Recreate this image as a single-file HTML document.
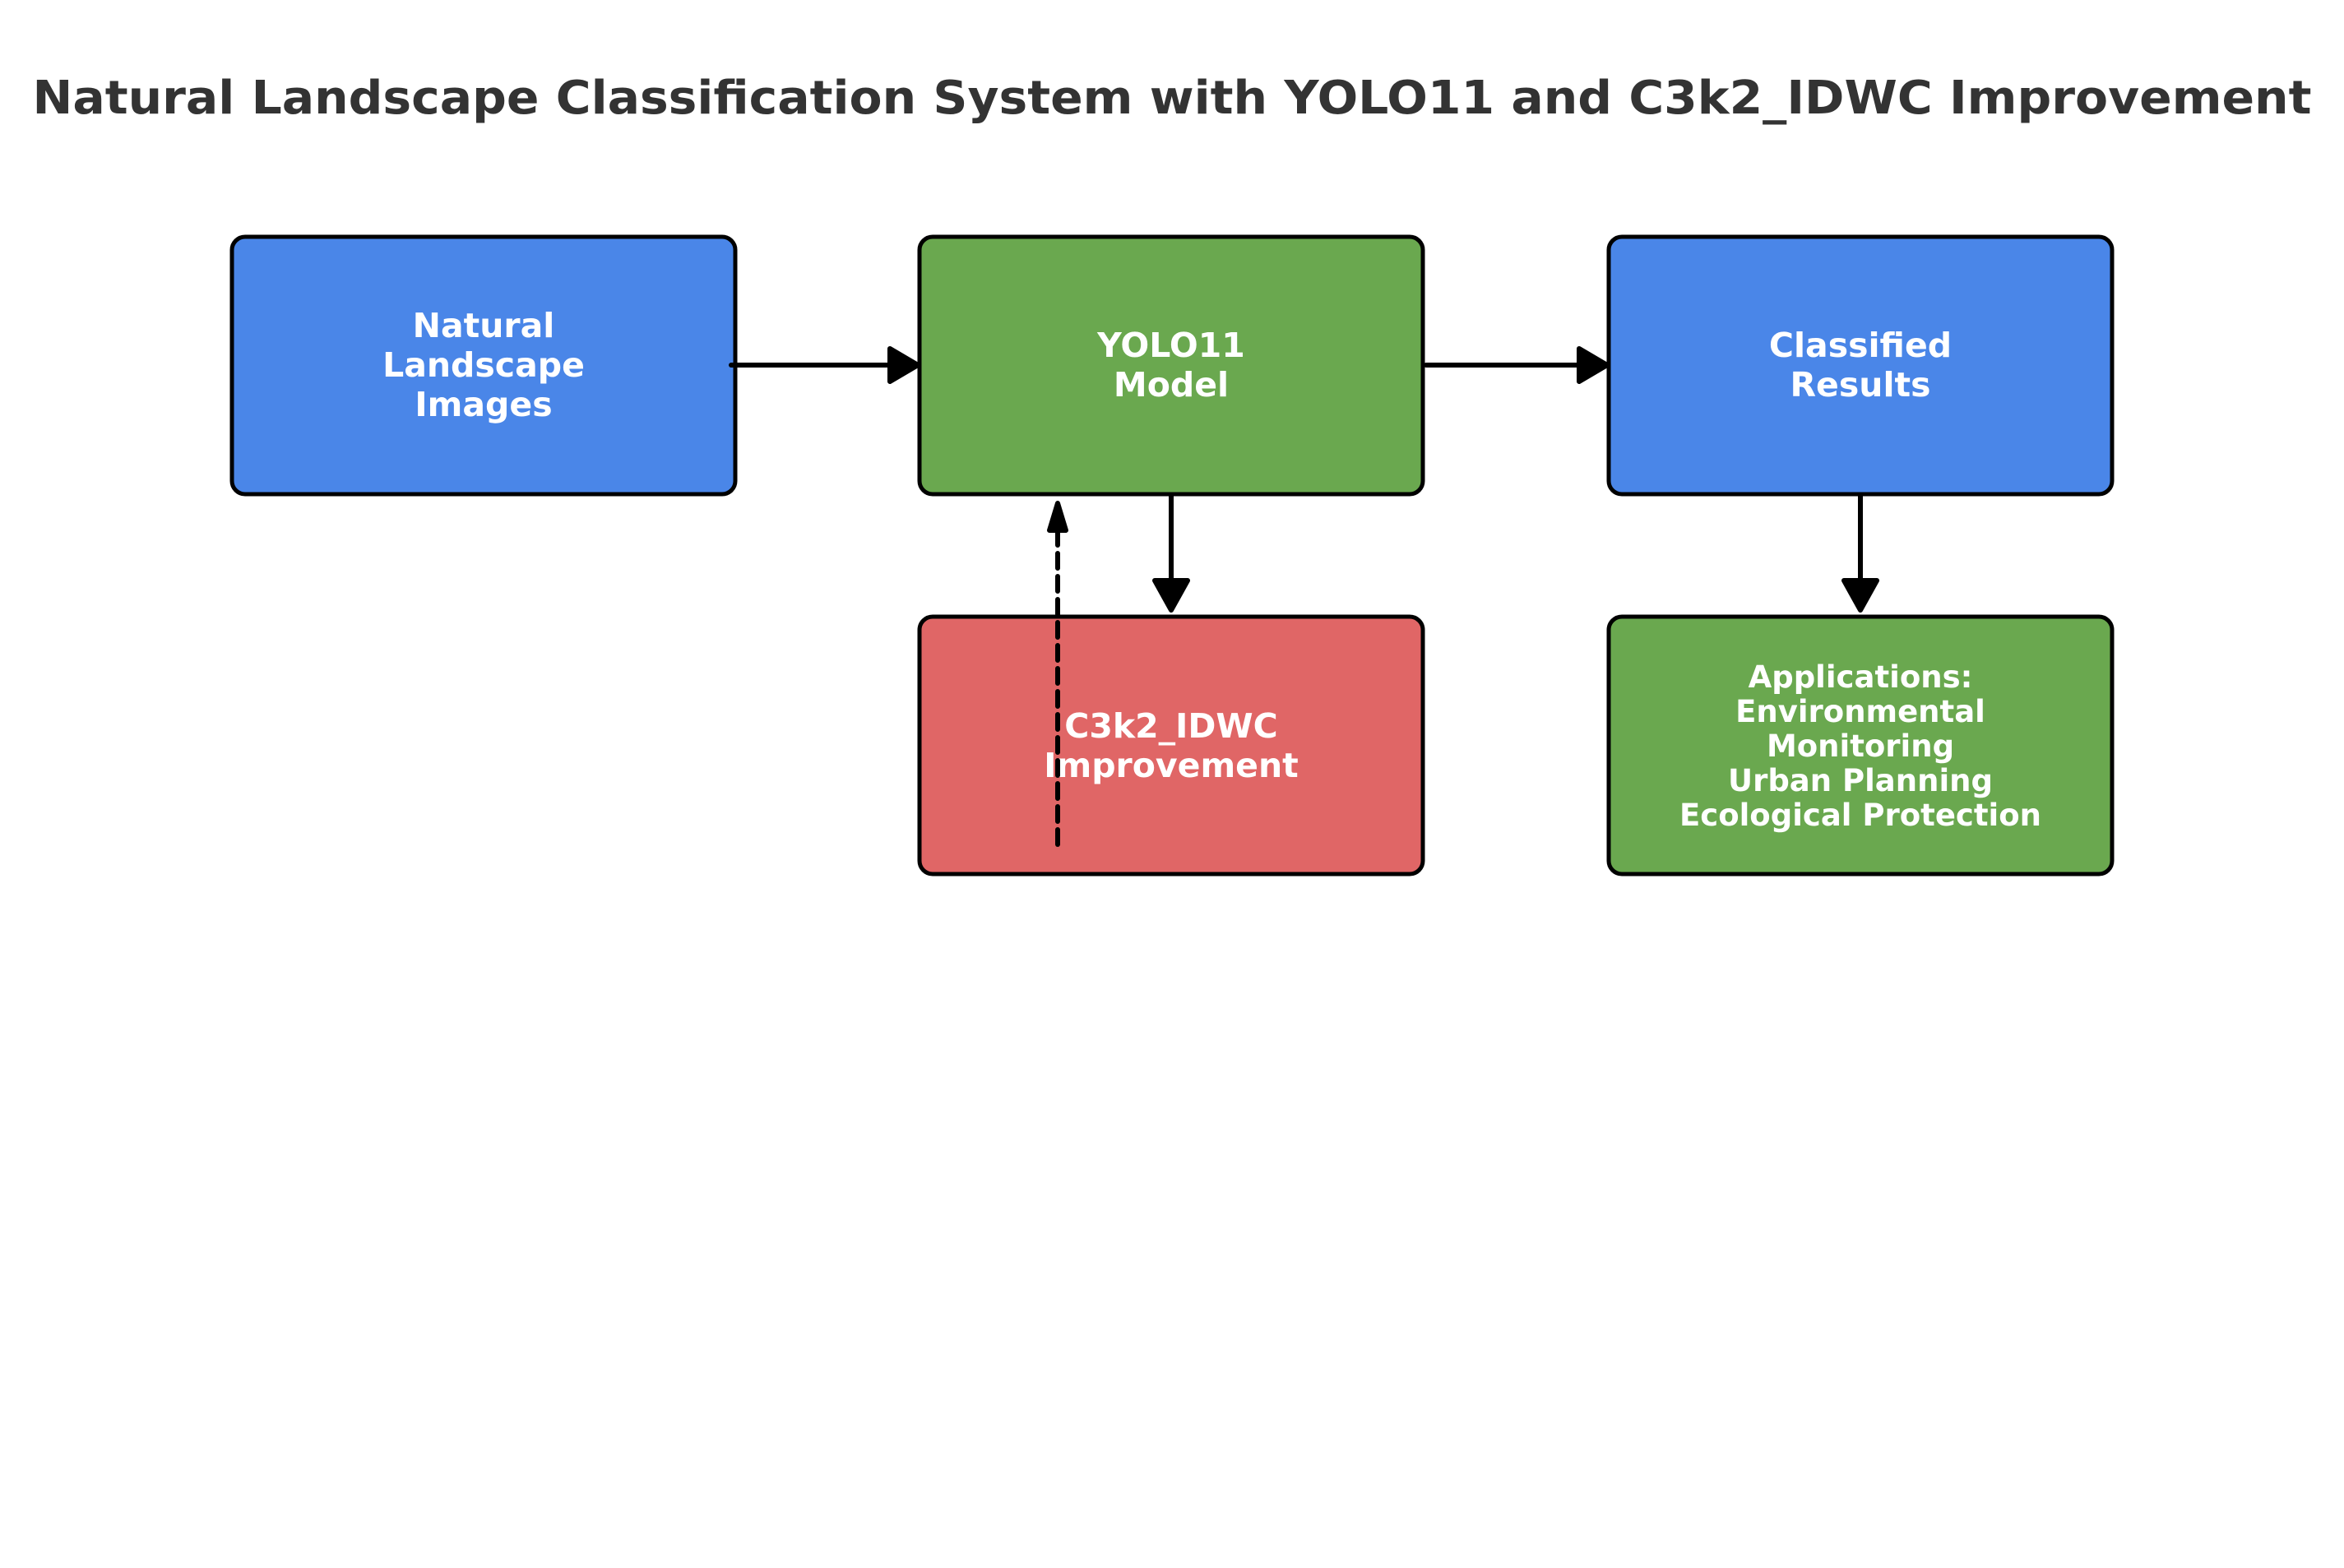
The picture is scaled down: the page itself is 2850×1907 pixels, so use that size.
<!DOCTYPE html>
<html><head><meta charset="utf-8"><style>html,body{margin:0;padding:0;background:#fff}svg{display:block}</style></head>
<body>
<svg width="2850" height="1907" viewBox="0 0 2850 1907" xmlns="http://www.w3.org/2000/svg" font-family="DejaVu Sans, Liberation Sans, sans-serif" font-weight="bold">
<rect width="2850" height="1907" fill="#fff"/>
<text x="1425" y="138" font-size="56" fill="#333" text-anchor="middle" textLength="2771" lengthAdjust="spacingAndGlyphs">Natural Landscape Classification System with YOLO11 and C3k2_IDWC Improvement</text>
<g stroke="#000" stroke-width="5">
<rect x="282" y="288" width="612" height="313" rx="16" fill="#4a86e8"/>
<rect x="1118" y="288" width="612" height="313" rx="16" fill="#6aa84f"/>
<rect x="1956" y="288" width="612" height="313" rx="16" fill="#4a86e8"/>
<rect x="1118" y="750" width="612" height="313" rx="16" fill="#e06666"/>
<rect x="1956" y="750" width="612" height="313" rx="16" fill="#6aa84f"/>
</g>
<g fill="#fff" text-anchor="middle">
<text font-size="41"><tspan x="588" y="410">Natural</tspan><tspan x="588" y="458">Landscape</tspan><tspan x="588" y="506">Images</tspan></text>
<text font-size="41"><tspan x="1424" y="434">YOLO11</tspan><tspan x="1424" y="482">Model</tspan></text>
<text font-size="41"><tspan x="2262" y="434">Classified</tspan><tspan x="2262" y="482">Results</tspan></text>
<text font-size="41"><tspan x="1424" y="897">C3k2_IDWC</tspan><tspan x="1424" y="945">Improvement</tspan></text>
<text font-size="37"><tspan x="2262" y="836">Applications:</tspan><tspan x="2262" y="878">Environmental</tspan><tspan x="2262" y="920">Monitoring</tspan><tspan x="2262" y="962">Urban Planning</tspan><tspan x="2262" y="1004">Ecological Protection</tspan></text>
</g>
<g stroke="#000" stroke-width="6" stroke-linecap="round" stroke-linejoin="round">
<line x1="889" y1="444" x2="1082" y2="444"/>
<polygon points="1082,424 1116,444 1082,464" fill="#000"/>
<line x1="1734" y1="444" x2="1920" y2="444"/>
<polygon points="1920,424 1954,444 1920,464" fill="#000"/>
<line x1="1424" y1="603" x2="1424" y2="706"/>
<polygon points="1404,706 1424,742 1444,706" fill="#000"/>
<line x1="2262" y1="603" x2="2262" y2="706"/>
<polygon points="2242,706 2262,742 2282,706" fill="#000"/>
<line x1="1286" y1="1027" x2="1286" y2="640" stroke-dasharray="18,10"/>
<polygon points="1276,645 1286,612 1296,645" fill="#000"/>
</g>
</svg>
</body></html>
